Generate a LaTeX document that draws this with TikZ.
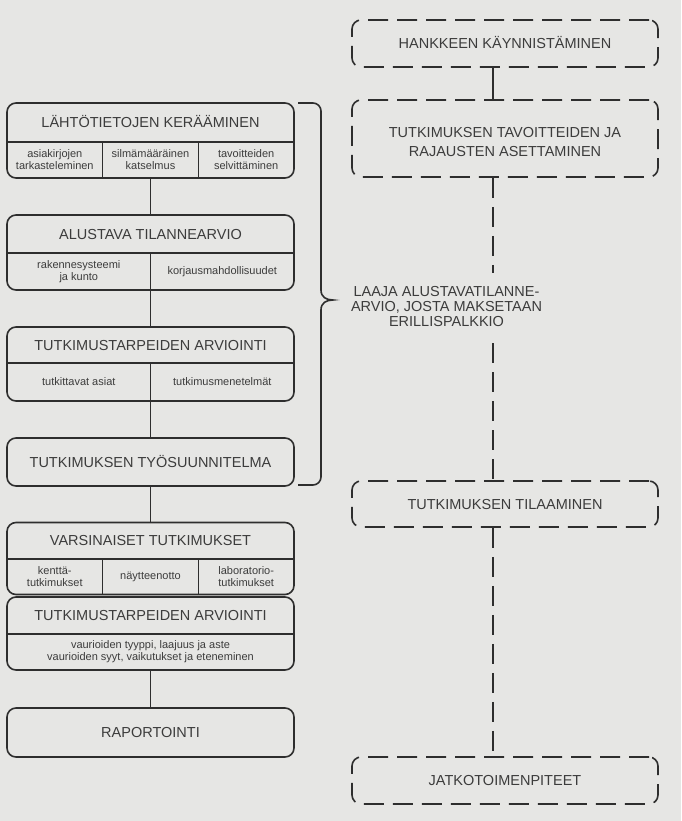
\documentclass[tikz,border=0pt]{standalone}
\usepackage{fontspec}
\setmainfont{Liberation Sans}
\usetikzlibrary{calc}
\definecolor{bg}{HTML}{E6E6E4}
\definecolor{ink}{HTML}{2E2E2E}
\definecolor{txt}{HTML}{3C3C3C}
\begin{document}
\begin{tikzpicture}[x=1pt,y=-1pt,
  solidbox/.style={draw=ink, line width=1.6pt, rounded corners=9pt, minimum width=287pt, inner sep=0pt},
  dashbox/.style={draw=ink, line width=1.6pt, rounded corners=9pt, dash pattern=on 20pt off 9pt, minimum width=306pt, inner sep=0pt},
  title/.style={text=txt, font=\fontsize{14.5}{19}\selectfont, inner sep=0pt, align=center},
  bigtext/.style={text=txt, font=\fontsize{14.5}{15}\selectfont, inner sep=0pt, align=center},
  sub/.style={text=txt, font=\fontsize{11}{12}\selectfont, inner sep=0pt, align=center},
  link/.style={draw=ink, line width=1.6pt},
  dlink/.style={link, dash pattern=on 20pt off 9pt},
  divider/.style={draw=ink, line width=1.4pt}]
\fill[bg] (0,0) rectangle (681,821);
\useasboundingbox (0,0) rectangle (681,821);

% ---------- left column boxes ----------
\node[solidbox, minimum height=75pt] (b1) at (150.5,140.5) {};
\node[solidbox, minimum height=75pt] (b2) at (150.5,252.5) {};
\node[solidbox, minimum height=74pt] (b3) at (150.5,364) {};
\node[solidbox, minimum height=48pt] (b4) at (150.5,462) {};
\node[solidbox, minimum height=72pt] (b5) at (150.5,558.5) {};
\node[solidbox, minimum height=73pt] (b6) at (150.5,633.5) {};
\node[solidbox, minimum height=49pt] (b7) at (150.5,732.5) {};

% dividers
\draw[divider] (b1.west |- 0,142) -- (b1.east |- 0,142);
\draw[divider] (102.7,142) -- (102.7,178);
\draw[divider] (198.3,142) -- (198.3,178);
\draw[divider] (b2.west |- 0,253) -- (b2.east |- 0,253);
\draw[divider] (150.5,253) -- (150.5,290);
\draw[divider] (b3.west |- 0,363) -- (b3.east |- 0,363);
\draw[divider] (150.5,363) -- (150.5,401);
\draw[divider] (b5.west |- 0,559) -- (b5.east |- 0,559);
\draw[divider] (102.7,559) -- (102.7,594.5);
\draw[divider] (198.3,559) -- (198.3,594.5);
\draw[divider] (b6.west |- 0,634) -- (b6.east |- 0,634);

% titles
\node[title, anchor=base] (t1) at (150.5,127.5) {LÄHTÖTIETOJEN KERÄÄMINEN};
\node[title, anchor=base] (t2) at (150.5,239) {ALUSTAVA TILANNEARVIO};
\node[title, anchor=base] (t3) at (150.5,350) {TUTKIMUSTARPEIDEN ARVIOINTI};
\node[title, anchor=base] (t4) at (150.5,467) {TUTKIMUKSEN TYÖSUUNNITELMA};
\node[title, anchor=base] (t5) at (150.5,545) {VARSINAISET TUTKIMUKSET};
\node[title, anchor=base] (t6) at (150.5,620.5) {TUTKIMUSTARPEIDEN ARVIOINTI};
\node[title, anchor=base] (t7) at (150.5,737.5) {RAPORTOINTI};

% sub labels
\node[sub] (s11) at (54.8,160) {asiakirjojen\\tarkasteleminen};
\node[sub] (s12) at (150.5,160) {silmämääräinen\\katselmus};
\node[sub] (s13) at (246.2,160) {tavoitteiden\\selvittäminen};
\node[sub] (s21) at (78.8,271.5) {rakennesysteemi\\ja kunto};
\node[sub] (s22) at (222.3,271.5) {korjausmahdollisuudet};
\node[sub] (s31) at (78.8,382) {tutkittavat asiat};
\node[sub] (s32) at (222.3,382) {tutkimusmenetelmät};
\node[sub] (s51) at (54.8,576.5) {kenttä-\\tutkimukset};
\node[sub] (s52) at (150.5,576.5) {näytteenotto};
\node[sub] (s53) at (246.2,576.5) {laboratorio-\\tutkimukset};
\node[sub] (s61) at (150.5,652) {vaurioiden tyyppi, laajuus ja aste\\vaurioiden syyt, vaikutukset ja eteneminen};

% left connectors
\draw[link] (b1.south) -- (b2.north);
\draw[link] (b2.south) -- (b3.north);
\draw[link] (b3.south) -- (b4.north);
\draw[link] (b4.south) -- (b5.north);
\draw[link] (b6.south) -- (b7.north);

% ---------- brace ----------
\draw[link, rounded corners=8pt] (298,103) -- (321,103) -- (321,290);
\draw[link] (321,284) -- (321,290) .. controls (321,297) and (326,300) .. (333,300)
  .. controls (326,300) and (321,303) .. (321,310) -- (321,316);
\draw[link, rounded corners=8pt] (321,310) -- (321,485) -- (298,485);
\node[bigtext] (laaja) at (446.5,307) {LAAJA ALUSTAVATILANNE-\\ARVIO, JOSTA MAKSETAAN\\ERILLISPALKKIO};

% ---------- right column ----------
\node[dashbox, minimum height=47pt] (A) at (505,43.5) {};
\node[dashbox, minimum height=77pt] (B) at (505,138.5) {};
\node[dashbox, minimum height=46pt] (C) at (505,504) {};
\node[dashbox, minimum height=47pt] (D) at (505,780.5) {};

\node[title, anchor=base] (tA) at (505,48.5) {HANKKEEN KÄYNNISTÄMINEN};
\node[title] (tB) at (505,142) {TUTKIMUKSEN TAVOITTEIDEN JA\\RAJAUSTEN ASETTAMINEN};
\node[title, anchor=base] (tC) at (505,509) {TUTKIMUKSEN TILAAMINEN};
\node[title, anchor=base] (tD) at (505,785.5) {JATKOTOIMENPITEET};

\coordinate (spine) at (493,0);
\coordinate (gapTop) at (493,273);
\coordinate (gapBot) at (493,343);
\draw[link] (A.south -| spine) -- (B.north -| spine);
\draw[dlink] (B.south -| spine) -- (gapTop);
\draw[dlink] (gapBot) -- (C.north -| spine);
\draw[dlink] (C.south -| spine) -- (D.north -| spine);
\end{tikzpicture}
\end{document}
